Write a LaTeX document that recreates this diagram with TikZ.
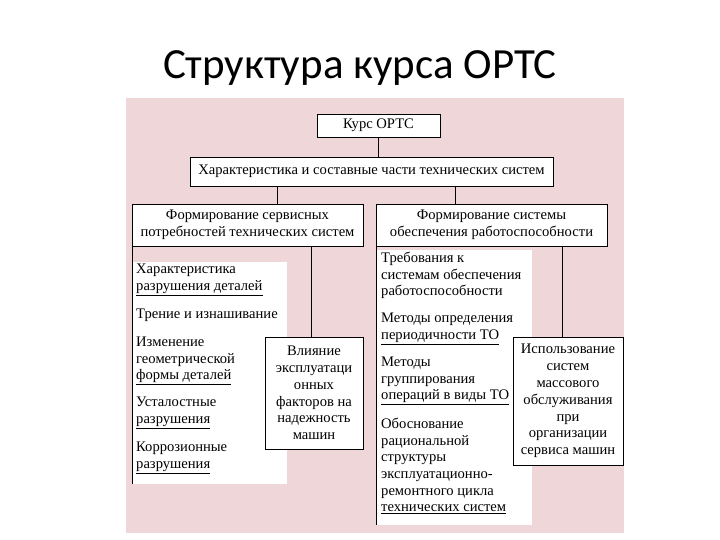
\documentclass[tikz,border=0pt]{standalone}
\usepackage{fontspec}
\setmainfont{Liberation Serif}
\newfontfamily\titlefont{Carlito}
\definecolor{pinkbg}{RGB}{239,214,216}
\begin{document}
\begin{tikzpicture}[x=1pt,y=-1pt,
  box/.style={draw,line width=0.8pt,fill=white,inner sep=0pt},
  txt/.style={font=\fontsize{14.6}{16.8}\selectfont,inner sep=0pt,align=center},
  item/.style={font=\fontsize{14.6}{16.6}\selectfont,inner sep=0pt,align=left,anchor=north west},
  conn/.style={line width=0.8pt}]
\useasboundingbox (0,0) rectangle (720,540);
\fill[white] (0,0) rectangle (720,540);
\node[font=\titlefont\fontsize{43}{48}\selectfont,inner sep=0pt] (title) at (360,68) {Структура курса ОРТС};
\fill[pinkbg] (126,98) rectangle (624,533);
% white areas
\fill[white] (132,262) rectangle (287,484);
\fill[white] (376,250) rectangle (532,525);
% boxes
\draw[box] (317,114) rectangle (440,137); \node[txt] (kurs) at (378.5,125.5) {Курс ОРТС};
\draw[box] (190,157) rectangle (553,186); \node[txt] (har) at (371.5,171.5) {Характеристика и составные части технических систем};
\draw[box] (132,204) rectangle (363,246); \node[txt] (left) at (247.5,225) {Формирование сервисных\\потребностей технических систем};
\draw[box] (376,204) rectangle (607,246); \node[txt] (right) at (491.5,225) {Формирование системы\\обеспечения работоспособности};
\draw[box] (265,337) rectangle (363,449); \node[txt] (vl) at (314,393) {Влияние\\эксплуатаци\\онных\\факторов на\\надежность\\машин};
\draw[box] (513,337) rectangle (623,465); \node[txt] (isp) at (568,401) {Использование\\систем\\массового\\обслуживания\\при\\организации\\сервиса машин};
% connectors
\coordinate (kb) at (378.5,137); \coordinate (ht) at (378.5,157);
\draw[conn] (kb) -- (ht);
\draw[conn] (277,186) -- (277,204);
\draw[conn] (455,186) -- (455,204);
\draw[conn] (311,246) -- (311,337);
\draw[conn] (562,246) -- (562,337);
\draw[conn] (132,246) -- (132,484);
\draw[conn] (376,246) -- (376,525);
% left items
\node[item] (l1) at (136,264) {Характеристика\\\underline{разрушения деталей}};
\node[item] (l2) at (136,309) {Трение и изнашивание};
\node[item] (l3) at (136,337) {Изменение\\геометрической\\\underline{формы деталей}};
\node[item] (l4) at (136,397) {Усталостные\\\underline{разрушения}};
\node[item] (l5) at (136,442) {Коррозионные\\\underline{разрушения}};
% right items
\node[item] (r1) at (381,252) {Требования к\\системам обеспечения\\работоспособности};
\node[item] (r2) at (381,313) {Методы определения\\\underline{периодичности ТО}};
\node[item] (r3) at (381,357) {Методы\\группирования\\\underline{операций в виды ТО}};
\node[item] (r4) at (381,418) {Обоснование\\рациональной\\структуры\\эксплуатационно-\\ремонтного цикла\\\underline{технических систем}};
\end{tikzpicture}
\end{document}
